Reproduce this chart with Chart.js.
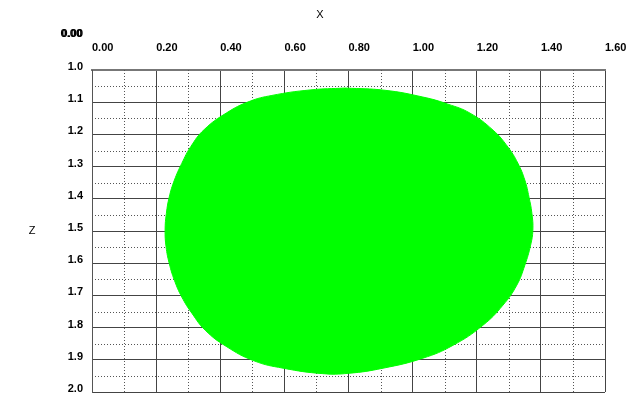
<!DOCTYPE html>
<html>
<head>
<meta charset="utf-8">
<script src="https://cdn.jsdelivr.net/npm/chart.js@4/dist/chart.umd.min.js"></script>
<style>
  html, body { margin: 0; padding: 0; background: #fff; }
  #wrap { width: 640px; height: 396px; }
</style>
</head>
<body>
<div id="wrap"><canvas id="section"></canvas></div>
<script>
// section outline, clockwise from the top (x, z)
const outlineX = [0.790, 0.914, 1.032, 1.110, 1.179, 1.251, 1.297, 1.328, 1.350, 1.363,
                  1.372, 1.375, 1.368, 1.350, 1.325, 1.282, 1.219, 1.126, 1.032, 0.908,
                  0.800, 0.720, 0.596, 0.505, 0.418, 0.353, 0.312, 0.280, 0.257, 0.241,
                  0.231, 0.228, 0.232, 0.241, 0.257, 0.280, 0.308, 0.350, 0.420, 0.490,
                  0.561, 0.680, 0.790];
const outlineZ = [1.056, 1.063, 1.084, 1.106, 1.134, 1.187, 1.239, 1.289, 1.342, 1.395,
                  1.445, 1.497, 1.544, 1.606, 1.668, 1.730, 1.793, 1.855, 1.895, 1.926,
                  1.942, 1.943, 1.926, 1.903, 1.858, 1.808, 1.756, 1.705, 1.653, 1.601,
                  1.549, 1.497, 1.445, 1.394, 1.342, 1.290, 1.238, 1.185, 1.133, 1.098,
                  1.079, 1.062, 1.056];

const xTicks = [0.0, 0.2, 0.4, 0.6, 0.8, 1.0, 1.2, 1.4, 1.6];
const zTicks = [1.0, 1.1, 1.2, 1.3, 1.4, 1.5, 1.6, 1.7, 1.8, 1.9, 2.0];

const labelFont = { family: 'Liberation Sans, Arial, sans-serif', size: 11, weight: 'bold' };

// dotted lines halfway between the major ticks + the loose labels
const extras = {
  id: 'extras',
  beforeDatasetsDraw(chart) {
    const { ctx, chartArea: a, scales } = chart;
    ctx.save();
    ctx.strokeStyle = '#555';
    ctx.lineWidth = 1;
    ctx.setLineDash([1, 2]);
    for (let i = 0; i < xTicks.length - 1; i++) {
      const px = Math.round(scales.x.getPixelForValue((xTicks[i] + xTicks[i + 1]) / 2)) + 0.5;
      ctx.beginPath(); ctx.moveTo(px, a.top); ctx.lineTo(px, a.bottom); ctx.stroke();
    }
    for (let i = 0; i < zTicks.length - 1; i++) {
      const py = Math.round(scales.y.getPixelForValue((zTicks[i] + zTicks[i + 1]) / 2)) + 0.5;
      ctx.beginPath(); ctx.moveTo(a.left, py); ctx.lineTo(a.right, py); ctx.stroke();
    }
    ctx.restore();
  },
  afterDraw(chart) {
    const { ctx, chartArea: a } = chart;
    ctx.save();
    ctx.fillStyle = '#000';
    ctx.font = '11px Liberation Sans, Arial, sans-serif';
    ctx.textAlign = 'center';
    ctx.textBaseline = 'middle';
    ctx.fillText('X', chart.width / 2, 15);
    ctx.fillText('Z', 32, (a.top + a.bottom) / 2);
    ctx.font = 'bold 11px Liberation Sans, Arial, sans-serif';
    ctx.textAlign = 'right';
    ctx.fillText('0.00', 82, 34);
    ctx.fillText('0.00', 83, 34);
    ctx.restore();
  }
};

new Chart(document.getElementById('section'), {
  type: 'scatter',
  data: {
    datasets: [{
      data: outlineX.map((x, i) => ({ x: x, y: outlineZ[i] })),
      showLine: true,
      fill: 'shape',
      tension: 0.45,
      backgroundColor: '#00ff00',
      borderColor: '#00ff00',
      borderWidth: 1,
      pointRadius: 0
    }]
  },
  options: {
    responsive: true,
    maintainAspectRatio: false,
    animation: false,
    layout: { padding: { left: 0, right: 35, top: 0, bottom: 4 } },
    plugins: {
      legend: { display: false },
      tooltip: { enabled: false },
      title: { display: false }
    },
    scales: {
      x: {
        type: 'linear',
        position: 'top',
        min: 0, max: 1.6,
        afterBuildTicks: s => { s.ticks = xTicks.map(v => ({ value: v })); },
        afterFit: s => { s.height = 70; s.paddingLeft = 0; s.paddingRight = 0; },
        ticks: {
          align: 'start',
          padding: 15,
          color: '#000',
          font: labelFont,
          callback: v => v.toFixed(2)
        },
        grid: { color: '#444', lineWidth: 1, drawTicks: false },
        border: { color: '#777', width: 2 }
      },
      y: {
        type: 'linear',
        reverse: true,
        min: 1.0, max: 2.0,
        afterBuildTicks: s => { s.ticks = zTicks.map(v => ({ value: v })); },
        afterFit: s => { s.width = 92; s.paddingTop = 0; s.paddingBottom = 0; },
        ticks: {
          padding: 9,
          labelOffset: -3,
          color: '#000',
          font: labelFont,
          callback: v => v.toFixed(1)
        },
        grid: { color: '#444', lineWidth: 1, drawTicks: false },
        border: { color: '#555', width: 1 }
      }
    }
  },
  plugins: [extras]
});
</script>
</body>
</html>
